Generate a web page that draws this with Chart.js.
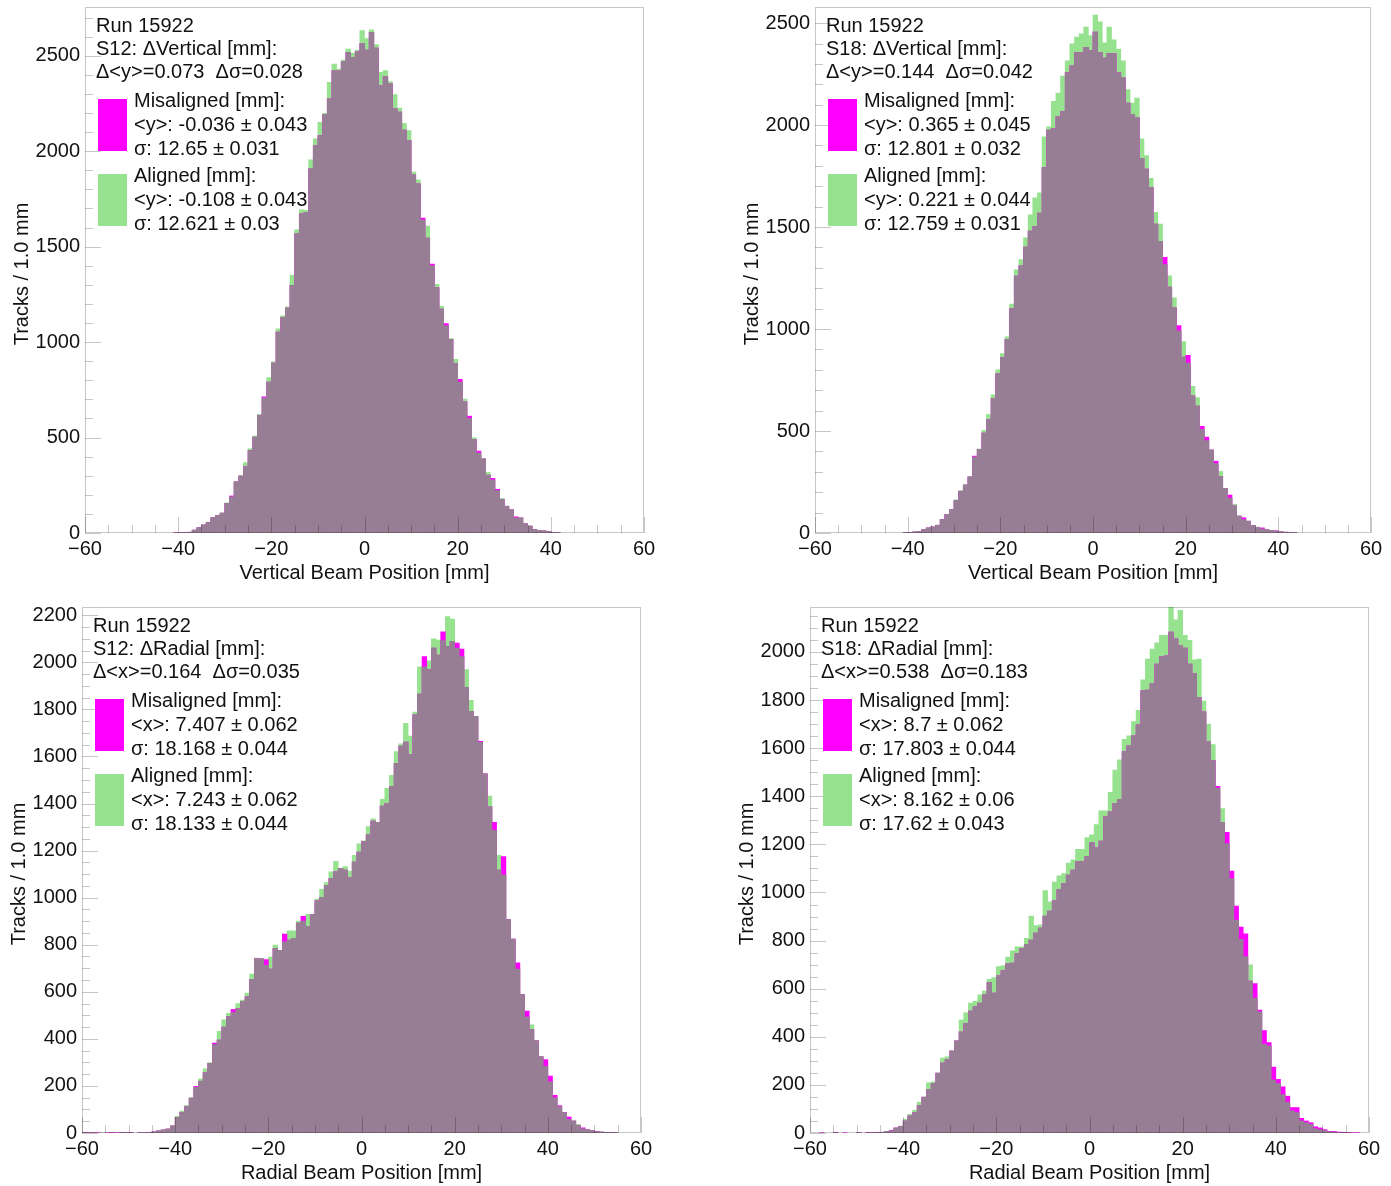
<!DOCTYPE html>
<html>
<head>
<meta charset="utf-8">
<script src="https://cdn.jsdelivr.net/npm/chart.js@4.4.1/dist/chart.umd.min.js"></script>
<style>
  body { margin: 0; background: #fff; }
  #page { position: relative; width: 1391px; height: 1186px; }
  .panel { position: absolute; }
</style>
</head>
<body>
<div id="page">
  <div class="panel" style="left:0;top:0"><canvas id="c1" width="695" height="593"></canvas></div>
  <div class="panel" style="left:695px;top:0"><canvas id="c2" width="696" height="593"></canvas></div>
  <div class="panel" style="left:0;top:593px"><canvas id="c3" width="695" height="593"></canvas></div>
  <div class="panel" style="left:695px;top:593px"><canvas id="c4" width="696" height="593"></canvas></div>
</div>
<script>
// 1 mm bins from -60 to 60, one value per bin (first = [-60,-59))
const binLow = -60;
const xMajorTicks = [-60, -40, -20, 0, 20, 40, 60];

const vertS12Aligned = [
  0, 0, 0, 0, 0, 0, 0, 0, 0, 0, 0, 0, 0, 0, 0, 0, 0, 0, 0, 1,
  1, 2, 4, 15, 28, 44, 57, 82, 93, 105, 158, 190, 270, 302, 369, 442, 508, 622, 708, 814,
  896, 1070, 1137, 1184, 1349, 1588, 1693, 1690, 1954, 2064, 2151, 2198, 2361, 2456, 2430, 2477, 2535, 2513, 2530, 2631,
  2590, 2636, 2558, 2413, 2422, 2364, 2296, 2226, 2146, 2108, 1890, 1850, 1640, 1607, 1400, 1302, 1187, 1085, 1018, 910,
  790, 701, 600, 499, 420, 390, 317, 278, 222, 181, 141, 124, 80, 80, 51, 37, 19, 14, 12, 8,
  3, 1, 0, 0, 0, 0, 0, 0, 0, 0, 0, 0, 0, 0, 0, 0, 0, 0, 0, 0
];
const vertS12Misaligned = [
  0, 0, 0, 0, 0, 0, 0, 0, 0, 0, 0, 0, 0, 0, 0, 0, 0, 0, 0, 1,
  1, 2, 4, 15, 28, 42, 55, 80, 92, 104, 155, 194, 268, 298, 347, 432, 502, 615, 713, 791,
  890, 1053, 1130, 1178, 1297, 1567, 1672, 1680, 1907, 2029, 2081, 2190, 2274, 2421, 2421, 2470, 2517, 2492, 2520, 2564,
  2530, 2622, 2540, 2343, 2390, 2352, 2221, 2204, 2111, 2055, 1876, 1829, 1649, 1545, 1409, 1285, 1173, 1097, 1015, 887,
  805, 687, 612, 490, 429, 388, 303, 286, 229, 176, 140, 122, 85, 79, 48, 36, 18, 14, 11, 8,
  3, 1, 0, 0, 0, 0, 0, 0, 0, 0, 0, 0, 0, 0, 0, 0, 0, 0, 0, 0
];
const vertS18Aligned = [
  0, 0, 0, 0, 0, 0, 0, 0, 0, 0, 0, 0, 0, 0, 0, 0, 0, 0, 0, 1,
  3, 5, 8, 17, 25, 30, 38, 66, 91, 116, 163, 207, 237, 277, 373, 412, 503, 581, 677, 800,
  880, 962, 1123, 1290, 1340, 1447, 1560, 1643, 1668, 1942, 1991, 2116, 2157, 2240, 2315, 2398, 2431, 2448, 2481, 2439,
  2539, 2506, 2403, 2481, 2418, 2373, 2315, 2174, 2108, 2132, 1933, 1850, 1739, 1572, 1515, 1316, 1261, 1153, 991, 938,
  833, 719, 664, 509, 453, 407, 340, 302, 219, 171, 141, 83, 66, 58, 38, 28, 20, 16, 13, 9,
  6, 4, 3, 1, 0, 0, 0, 0, 0, 0, 0, 0, 0, 0, 0, 0, 0, 0, 0, 0
];
const vertS18Misaligned = [
  0, 0, 0, 0, 0, 0, 0, 0, 0, 0, 0, 0, 0, 0, 0, 0, 0, 0, 0, 1,
  3, 5, 8, 17, 25, 30, 38, 66, 90, 114, 160, 205, 235, 275, 377, 410, 490, 556, 659, 780,
  860, 950, 1100, 1260, 1310, 1402, 1480, 1502, 1568, 1792, 1975, 1983, 2041, 2066, 2257, 2290, 2356, 2356, 2381, 2365,
  2456, 2356, 2328, 2351, 2351, 2257, 2232, 2108, 2053, 2036, 1837, 1784, 1693, 1515, 1430, 1352, 1206, 1104, 1017, 863,
  871, 672, 622, 523, 470, 407, 352, 277, 219, 186, 133, 83, 75, 58, 36, 28, 25, 16, 13, 11,
  6, 4, 3, 1, 0, 0, 0, 0, 0, 0, 0, 0, 0, 0, 0, 0, 0, 0, 0, 0
];
const radS12Aligned = [
  2, 1, 2, 0, 1, 0, 1, 0, 2, 1, 1, 0, 1, 2, 3, 5, 9, 13, 17, 31,
  71, 93, 117, 150, 194, 230, 273, 299, 376, 432, 481, 508, 512, 550, 565, 595, 675, 743, 740, 712,
  747, 798, 776, 812, 859, 859, 900, 900, 929, 929, 994, 1035, 1064, 1110, 1154, 1125, 1132, 1113, 1180, 1229,
  1241, 1302, 1335, 1320, 1418, 1465, 1520, 1621, 1654, 1741, 1687, 1789, 1981, 1981, 2006, 2100, 2094, 2092, 2194, 2184,
  2060, 2024, 1969, 1838, 1770, 1660, 1526, 1432, 1287, 1180, 1096, 907, 824, 697, 588, 493, 460, 392, 324, 283,
  218, 150, 112, 87, 58, 51, 36, 18, 14, 10, 6, 4, 3, 2, 1, 0, 0, 0, 0, 0
];
const radS12Misaligned = [
  3, 2, 1, 1, 0, 1, 2, 1, 2, 1, 2, 0, 1, 1, 2, 5, 9, 13, 17, 30,
  66, 88, 112, 148, 198, 220, 256, 296, 382, 395, 450, 495, 525, 528, 560, 580, 653, 740, 740, 737,
  696, 784, 776, 845, 820, 827, 892, 921, 878, 929, 987, 1001, 1052, 1081, 1110, 1125, 1117, 1084, 1151, 1194,
  1238, 1267, 1325, 1320, 1389, 1400, 1473, 1571, 1644, 1661, 1608, 1777, 1865, 2024, 1969, 2060, 2031, 2129, 2068, 2089,
  2082, 2056, 1894, 1792, 1770, 1664, 1526, 1386, 1320, 1117, 1175, 907, 824, 723, 588, 518, 440, 392, 324, 312,
  242, 160, 116, 87, 68, 51, 33, 22, 14, 10, 7, 4, 3, 2, 1, 0, 0, 0, 0, 0
];
const radS18Aligned = [
  0, 0, 0, 0, 0, 1, 0, 0, 0, 0, 1, 0, 1, 2, 2, 3, 7, 9, 21, 28,
  57, 78, 95, 128, 149, 209, 213, 249, 312, 317, 341, 383, 470, 500, 540, 547, 575, 590, 639, 646,
  692, 696, 731, 757, 774, 774, 809, 902, 862, 866, 1008, 961, 1043, 1069, 1079, 1122, 1136, 1179, 1179, 1228,
  1240, 1282, 1339, 1339, 1416, 1509, 1552, 1637, 1651, 1711, 1757, 1884, 1970, 2012, 2038, 2069, 2069, 2200, 2134, 2173,
  2069, 2048, 1967, 1970, 1796, 1700, 1615, 1434, 1349, 1203, 1058, 885, 805, 734, 699, 561, 504, 369, 362, 220,
  206, 160, 128, 92, 85, 50, 43, 36, 18, 14, 10, 5, 4, 2, 1, 1, 0, 0, 0, 0
];
const radS18Misaligned = [
  0, 0, 1, 0, 0, 2, 0, 1, 0, 0, 1, 0, 2, 2, 3, 3, 7, 11, 21, 28,
  50, 71, 85, 114, 149, 180, 206, 249, 291, 305, 341, 383, 420, 455, 507, 525, 540, 575, 625, 582,
  653, 675, 703, 706, 746, 767, 784, 802, 831, 852, 902, 923, 966, 1012, 1037, 1072, 1093, 1129, 1129, 1150,
  1207, 1186, 1214, 1316, 1335, 1370, 1387, 1586, 1610, 1651, 1697, 1839, 1842, 1870, 1950, 1981, 1984, 2083, 2055, 2026,
  2016, 1950, 1910, 1810, 1751, 1626, 1548, 1441, 1292, 1250, 1089, 944, 856, 828, 632, 621, 511, 426, 376, 274,
  223, 192, 153, 106, 106, 61, 50, 43, 26, 21, 14, 7, 7, 4, 3, 2, 1, 1, 0, 0
];

const s12VertHeader = ['Run 15922', 'S12: \u0394Vertical [mm]:', '\u0394<y>=0.073  \u0394\u03c3=0.028'];
const s12VertMis = ['Misaligned [mm]:', '<y>: -0.036 \u00b1 0.043', '\u03c3: 12.65 \u00b1 0.031'];
const s12VertAli = ['Aligned [mm]:', '<y>: -0.108 \u00b1 0.043', '\u03c3: 12.621 \u00b1 0.03'];
const s18VertHeader = ['Run 15922', 'S18: \u0394Vertical [mm]:', '\u0394<y>=0.144  \u0394\u03c3=0.042'];
const s18VertMis = ['Misaligned [mm]:', '<y>: 0.365 \u00b1 0.045', '\u03c3: 12.801 \u00b1 0.032'];
const s18VertAli = ['Aligned [mm]:', '<y>: 0.221 \u00b1 0.044', '\u03c3: 12.759 \u00b1 0.031'];
const s12RadHeader = ['Run 15922', 'S12: \u0394Radial [mm]:', '\u0394<x>=0.164  \u0394\u03c3=0.035'];
const s12RadMis = ['Misaligned [mm]:', '<x>: 7.407 \u00b1 0.062', '\u03c3: 18.168 \u00b1 0.044'];
const s12RadAli = ['Aligned [mm]:', '<x>: 7.243 \u00b1 0.062', '\u03c3: 18.133 \u00b1 0.044'];
const s18RadHeader = ['Run 15922', 'S18: \u0394Radial [mm]:', '\u0394<x>=0.538  \u0394\u03c3=0.183'];
const s18RadMis = ['Misaligned [mm]:', '<x>: 8.7 \u00b1 0.062', '\u03c3: 17.803 \u00b1 0.044'];
const s18RadAli = ['Aligned [mm]:', '<x>: 8.162 \u00b1 0.06', '\u03c3: 17.62 \u00b1 0.043'];

const MAGENTA = '#ff00ff';
const GREEN = 'rgb(151,226,143)';
const OVERLAP = '#977e94';
const AXIS = 'rgba(0,0,0,0.22)';
const FONT = '"Liberation Sans", Arial, Helvetica, sans-serif';

// empty bins get no bar at all (a zero bar still leaves a hairline)
const toPoints = (values) => values.map((v, i) => ({ x: binLow + i + 0.5, y: v > 0 ? v : null }));

// ROOT-like frame: inward ticks, labels, titles and the stats box
const rootFrame = {
  id: 'rootFrame',
  afterDatasetsDraw(chart, args, o) {
    const { ctx, chartArea: a, scales: { x, y } } = chart;
    ctx.save();
    ctx.strokeStyle = AXIS;
    ctx.lineWidth = 1;
    ctx.strokeRect(a.left + 0.5, a.top + 0.5, a.right - a.left - 1, a.bottom - a.top - 1);

    ctx.beginPath();
    for (let v = -60; v <= 60; v += 5) {
      const px = Math.round(x.getPixelForValue(v)) + 0.5;
      const len = xMajorTicks.includes(v) ? 16 : 8;
      ctx.moveTo(px, a.bottom);
      ctx.lineTo(px, a.bottom - len);
    }
    for (let v = 0; v <= o.yMax; v += o.yMinor) {
      const py = Math.round(y.getPixelForValue(v)) + 0.5;
      const len = v % o.yMajor === 0 ? 16 : 8;
      ctx.moveTo(a.left, py);
      ctx.lineTo(a.left + len, py);
    }
    ctx.stroke();

    ctx.fillStyle = '#111';
    ctx.font = `20px ${FONT}`;
    ctx.textAlign = 'right';
    ctx.textBaseline = 'middle';
    for (let v = 0; v <= o.yMax; v += o.yMajor) {
      ctx.fillText(String(v), a.left - 5, y.getPixelForValue(v));
    }
    ctx.textAlign = 'center';
    ctx.textBaseline = 'alphabetic';
    xMajorTicks.forEach((v) => {
      ctx.fillText(String(v).replace('-', '\u2212'), x.getPixelForValue(v), a.bottom + 22);
    });
    ctx.fillText(o.xTitle, (a.left + a.right) / 2, a.bottom + 46);

    ctx.save();
    ctx.translate(a.left - 57, (a.top + a.bottom) / 2 + 4);
    ctx.rotate(-Math.PI / 2);
    ctx.fillText('Tracks / 1.0 mm', 0, 0);
    ctx.restore();

    ctx.textAlign = 'left';
    o.header.forEach((t, i) => ctx.fillText(t, a.left + 11, a.top + 25 + i * 23));
    ctx.fillStyle = MAGENTA;
    ctx.fillRect(a.left + 13, a.top + 92, 29, 52);
    ctx.fillStyle = GREEN;
    ctx.fillRect(a.left + 13, a.top + 167, 29, 52);
    ctx.fillStyle = '#111';
    o.mis.forEach((t, i) => ctx.fillText(t, a.left + 49, a.top + 100 + i * 24));
    o.ali.forEach((t, i) => ctx.fillText(t, a.left + 49, a.top + 175 + i * 24));
    ctx.restore();
  },
};

const makePanel = (canvasId, mis, ali, frame, padding) => {
  const overlap = mis.map((v, i) => Math.min(v, ali[i]));
  const barStyle = { grouped: false, barPercentage: 1, categoryPercentage: 1, borderWidth: 0 };
  return new Chart(document.getElementById(canvasId), {
    type: 'bar',
    data: {
      datasets: [
        { label: 'Both', data: toPoints(overlap), backgroundColor: OVERLAP, ...barStyle },
        { label: 'Misaligned', data: toPoints(mis), backgroundColor: MAGENTA, ...barStyle },
        { label: 'Aligned', data: toPoints(ali), backgroundColor: GREEN, ...barStyle },
      ],
    },
    options: {
      responsive: false,
      animation: false,
      layout: { padding },
      plugins: {
        legend: { display: false },
        tooltip: { enabled: false },
        rootFrame: frame,
      },
      scales: {
        x: { type: 'linear', min: -60, max: 60, offset: false, display: false },
        y: { type: 'linear', min: 0, max: frame.yMax, display: false },
      },
    },
    plugins: [rootFrame],
  });
};

makePanel('c1', vertS12Misaligned, vertS12Aligned,
  { yMax: 2755, yMajor: 500, yMinor: 100, xTitle: 'Vertical Beam Position [mm]', header: s12VertHeader, mis: s12VertMis, ali: s12VertAli },
  { left: 85, top: 7, right: 51, bottom: 60 });
makePanel('c2', vertS18Misaligned, vertS18Aligned,
  { yMax: 2579, yMajor: 500, yMinor: 100, xTitle: 'Vertical Beam Position [mm]', header: s18VertHeader, mis: s18VertMis, ali: s18VertAli },
  { left: 120, top: 7, right: 20, bottom: 60 });
makePanel('c3', radS12Misaligned, radS12Aligned,
  { yMax: 2235, yMajor: 200, yMinor: 50, xTitle: 'Radial Beam Position [mm]', header: s12RadHeader, mis: s12RadMis, ali: s12RadAli },
  { left: 82, top: 14, right: 54, bottom: 53 });
makePanel('c4', radS18Misaligned, radS18Aligned,
  { yMax: 2187, yMajor: 200, yMinor: 50, xTitle: 'Radial Beam Position [mm]', header: s18RadHeader, mis: s18RadMis, ali: s18RadAli },
  { left: 115, top: 14, right: 22, bottom: 53 });
</script>
</body>
</html>
